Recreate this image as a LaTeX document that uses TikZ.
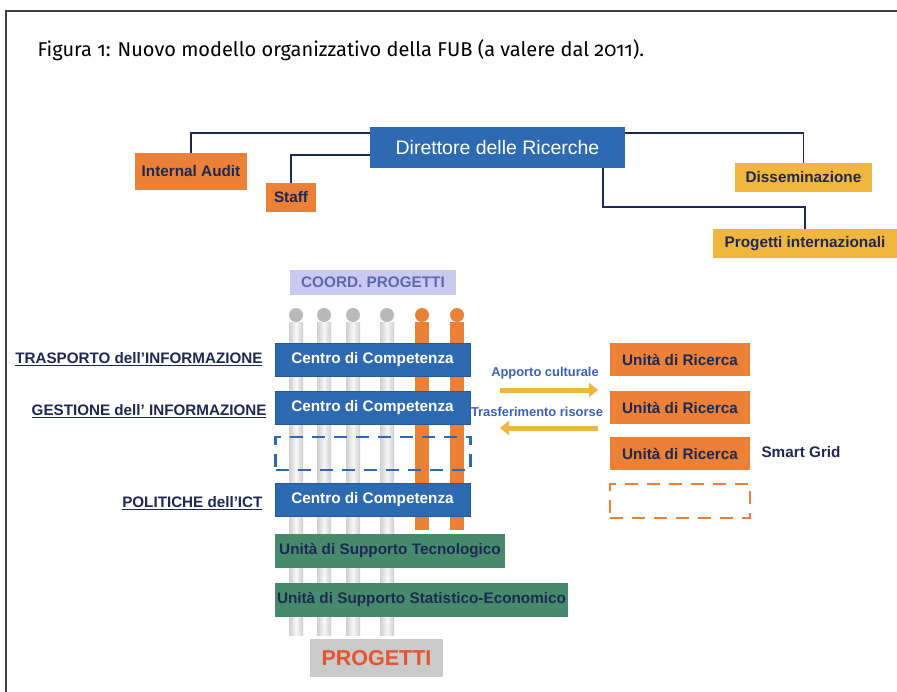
\documentclass[tikz,border=0pt]{standalone}
\usepackage{fontspec}
\setmainfont{Liberation Sans}
\newfontfamily\titlefont[Numbers=OldStyle]{Fira Sans}
\usetikzlibrary{arrows.meta}

\definecolor{dirblue}{RGB}{45,106,178}
\definecolor{boxorange}{RGB}{235,128,55}
\definecolor{boxyellow}{RGB}{240,182,62}
\definecolor{boxgreen}{RGB}{70,138,108}
\definecolor{lavender}{RGB}{202,202,240}
\definecolor{coordtext}{RGB}{92,106,172}
\definecolor{navy}{RGB}{30,40,85}
\definecolor{flowblue}{RGB}{60,96,192}
\definecolor{progred}{RGB}{232,82,45}
\definecolor{proggray}{RGB}{202,202,202}

\begin{document}
\begin{tikzpicture}[x=1pt,y=-1pt,
  box/.style={minimum width=#1,inner sep=0pt,font=\bfseries\fontsize{15.3}{17}\selectfont},
  cdc/.style={box=195pt,minimum height=33pt,fill=dirblue,draw=dirblue!85!black,text=white},
  unit/.style={box=140pt,minimum height=33pt,fill=boxorange,text=navy},
  support/.style={box=#1,minimum height=34pt,fill=boxgreen,text=navy},
  blank/.style={minimum width=#1,minimum height=33pt,draw,line width=2.5pt,dash pattern=on 13pt off 9pt},
  area/.style={anchor=east,text=navy,font=\bfseries\fontsize{15.2}{17}\selectfont},
  flow/.style={text=flowblue,font=\bfseries\fontsize{12.9}{14}\selectfont},
  link/.style={navy,line width=1.6pt},
  carry/.style={boxyellow,line width=5pt,-{Triangle[length=9pt,width=14pt]}}]
  \clip (0,0) rectangle (897,691);
  \fill[white] (0,0) rectangle (897,691);
  \draw[line width=1.8pt,black!75] (6,700) -- (6,11) -- (910,11);
  \node[anchor=base west,font=\titlefont\fontsize{20}{23}\selectfont] (title) at (34,56)
    {Figura 1: Nuovo modello organizzativo della FUB (a valere dal 2011).};

  % vertice
  \node[box=255pt,minimum height=41pt,fill=dirblue,text=white,font=\fontsize{19.5}{22}\selectfont] (dir) at (497.5,147.5) {Direttore delle Ricerche};
  \node[box=112pt,minimum height=37pt,fill=boxorange,text=navy] (audit) at (191,171.5) {Internal Audit};
  \node[box=50pt,minimum height=29pt,fill=boxorange,text=navy] (staff) at (291,197.5) {Staff};
  \node[box=137pt,minimum height=29pt,fill=boxyellow,text=navy] (dissem) at (803.5,177.5) {Disseminazione};
  \node[box=184pt,minimum height=29pt,fill=boxyellow,text=navy] (pint) at (805,243.5) {Progetti internazionali};
  \draw[link] ([yshift=-6pt]dir.north west) -| (audit.north);
  \draw[link] ([yshift=13pt]dir.south west) -| (staff.north);
  \draw[link] ([yshift=-6pt]dir.north east) -| (dissem.north);
  \draw[link] ([xshift=-22pt]dir.south east) -- ++(0,39) -| (pint.north);

  % pilastri
  \foreach \x in {296,324,353,387} {
    \shade[left color=gray!38,right color=gray!38,middle color=gray!6] (\x-7,322) rectangle (\x+7,635);
    \fill[gray!55] (\x,315) circle (7pt);
  }
  \foreach \x in {422,457} {
    \fill[boxorange] (\x-7,322) rectangle (\x+7,530);
    \fill[boxorange] (\x,315) circle (7pt);
  }

  \node[box=166pt,minimum height=25pt,fill=lavender,text=coordtext] (coord) at (373,282.5) {COORD. PROGETTI};
  \node[cdc] (cc1) at (372.5,359.5) {Centro di Competenza};
  \node[cdc] (cc2) at (372.5,407.5) {Centro di Competenza};
  \node[blank=195pt,draw=dirblue] (ccx) at (373,453.5) {};
  \node[cdc] (cc3) at (372.5,500) {Centro di Competenza};
  \node[support=230pt] (ust) at (390,550.5) {Unità di Supporto Tecnologico};
  \node[support=293pt] (usse) at (421.5,599.5) {Unità di Supporto Statistico-Economico};
  \node[box=133pt,minimum height=38pt,fill=proggray,text=progred,font=\bfseries\fontsize{21.5}{24}\selectfont] (prog) at (376.5,658) {PROGETTI};

  \node[area] (trasp) at (266,359) {\underline{TRASPORTO dell’INFORMAZIONE}};
  \node[area] (gest) at (270,411) {\underline{GESTIONE dell’ INFORMAZIONE}};
  \node[area] (polit) at (266,503) {\underline{POLITICHE dell’ICT}};

  % unita di ricerca
  \node[unit] (ur1) at (680,359.5) {Unità di Ricerca};
  \node[unit] (ur2) at (680,407.5) {Unità di Ricerca};
  \node[unit] (ur3) at (680,453.5) {Unità di Ricerca};
  \node[blank=140pt,minimum height=34pt,draw=boxorange] (urx) at (680,501) {};
  \node[anchor=west,text=navy,font=\bfseries\fontsize{15.3}{17}\selectfont] (smart) at (758,452) {Smart Grid};

  \node[flow] (appo) at (545,373) {Apporto culturale};
  \node[flow] (trasf) at (537,412) {Trasferimento risorse};
  \coordinate (go1) at (500,390);
  \coordinate (go2) at (598,390);
  \coordinate (back1) at (598,428);
  \coordinate (back2) at (500,428);
  \draw[carry] (go1) -- (go2);
  \draw[carry] (back1) -- (back2);
\end{tikzpicture}
\end{document}
